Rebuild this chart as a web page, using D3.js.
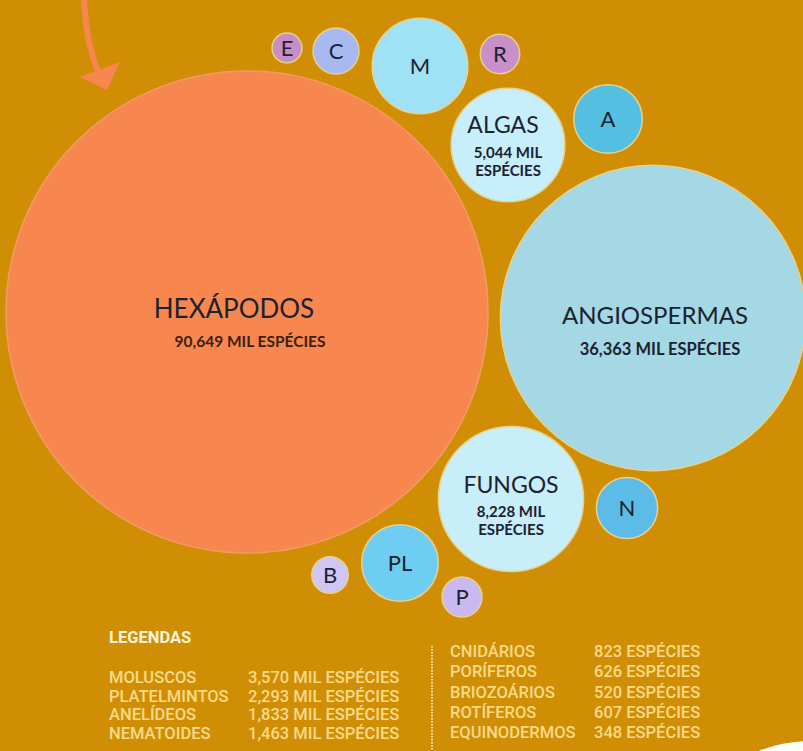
<!DOCTYPE html>
<meta charset="utf-8">
<style>
  body { margin: 0; background: #d08e05; }
  svg { display: block; }
  .bubble text { font-family: Lato, "Open Sans", sans-serif; fill: #1c2230; text-anchor: middle; }
  .legend text { font-family: Roboto, "Open Sans", sans-serif; fill: #f8da88; font-weight: 500; }
</style>
<svg width="803" height="751"></svg>
<script src="https://d3js.org/d3.v7.min.js"></script>
<script>

// data
var names = ["Hexápodos", "Angiospermas", "Fungos", "Algas", "Moluscos", "Platelmintos",
  "Anelídeos", "Nematoides", "Cnidários", "Poríferos", "Briozoários", "Rotíferos", "Equinodermos"];
var species = [90649, 36363, 8228, 5044, 3570, 2293, 1833, 1463, 823, 626, 520, 607, 348];
var codes = ["HEXÁPODOS", "ANGIOSPERMAS", "FUNGOS", "ALGAS", "M", "PL", "A", "N", "C", "P", "B", "R", "E"];

var legendLeft = ["Moluscos", "Platelmintos", "Anelídeos", "Nematoides"];
var legendRight = ["Cnidários", "Poríferos", "Briozoários", "Rotíferos", "Equinodermos"];

// layout (hand placed bubble centres) and colours
var centers = [[247, 312], [653, 318], [511, 499], [508, 145], [420, 66], [400, 563],
  [608, 119], [627, 508], [336, 51], [462, 597], [330, 575], [500, 54], [287, 48]];
var fills = ["#f7874e", "#a3d8e4", "#c8eefa", "#c6eefb", "#9fe2f6", "#6ecdf0",
  "#55bfe2", "#5cbbe7", "#a8b9f2", "#cab9ef", "#d0c6f5", "#c98fc8", "#c98dc6"];

var svg = d3.select("svg"),
  width = +svg.attr("width"),
  height = +svg.attr("height");

svg.append("rect").attr("width", width).attr("height", height).attr("fill", "#d08e05");

var r = d3.scaleSqrt().domain([0, d3.max(species)]).range([0, 241]);
var fmt = d3.format(",");
function label(v) { return v >= 1000 ? fmt(v) + " MIL ESPÉCIES" : v + " ESPÉCIES"; }

// arrow
svg.append("path")
  .attr("d", "M84,0 C86,35 91,55 99,74")
  .attr("fill", "none").attr("stroke", "#f7874e").attr("stroke-width", 6);
svg.append("path")
  .attr("d", "M80,77 L120,62 L107,90 Z")
  .attr("fill", "#f7874e");

var data = names.map(function(n, i) {
  return { name: n, value: species[i], code: codes[i], x: centers[i][0], y: centers[i][1], fill: fills[i] };
});

var node = svg.selectAll(".bubble")
  .data(data)
  .enter().append("g")
  .attr("class", "bubble")
  .attr("transform", function(d) { return "translate(" + d.x + "," + d.y + ")"; });

node.append("circle")
  .attr("r", function(d) { return r(d.value); })
  .attr("fill", function(d) { return d.fill; })
  .attr("stroke", function(d, i) { return i == 0 ? "#f49a68" : "#e6d28e"; })
  .attr("stroke-width", 1.5);

// small bubbles: just the letter
node.filter(function(d, i) { return i >= 4; })
  .append("text")
  .attr("dy", "0.35em")
  .style("font-size", "22px")
  .text(function(d) { return d.code; });

// big bubbles: name + count
var big = [
  { i: 0, t: [-13, 6], s: [[3, 35]], size: 26, sub: 15.5 },
  { i: 1, t: [2, 6], s: [[7, 37]], size: 24, sub: 16.5 },
  { i: 2, t: [0, -6], s: [[0, 18], [0, 36]], size: 23, sub: 15 },
  { i: 3, t: [-5, -12], s: [[0, 13], [0, 31]], size: 23, sub: 15 }
];
big.forEach(function(b) {
  var d = data[b.i];
  var g = node.filter(function(e) { return e === d; });
  g.append("text")
    .attr("x", b.t[0]).attr("y", b.t[1])
    .style("font-size", b.size + "px")
    .text(d.code);
  var parts = b.s.length == 1 ? [label(d.value)] : [fmt(d.value) + " MIL", "ESPÉCIES"];
  parts.forEach(function(p, k) {
    g.append("text")
      .attr("x", b.s[k][0]).attr("y", b.s[k][1])
      .style("font-size", b.sub + "px")
      .style("font-weight", 700)
      .style("fill", b.i == 0 ? "#3a1f12" : "#1c2230")
      .text(p);
  });
});

// legend
var legend = svg.append("g").attr("class", "legend");
legend.append("text")
  .attr("x", 109).attr("y", 643)
  .style("font-size", "16.5px").style("font-weight", 700).style("fill", "#fff4dc")
  .text("LEGENDAS");

var byName = {};
data.forEach(function(d) { byName[d.name] = d; });

var yLeft = d3.scalePoint().domain(legendLeft).range([683, 739]);
var yRight = d3.scalePoint().domain(legendRight).range([657, 738]);

[[legendLeft, yLeft, 109, 248], [legendRight, yRight, 450, 594]].forEach(function(c) {
  var rows = legend.selectAll(null).data(c[0]).enter();
  rows.append("text")
    .attr("x", c[2]).attr("y", function(n) { return c[1](n); })
    .style("font-size", "16.5px")
    .text(function(n) { return n.toUpperCase(); });
  rows.append("text")
    .attr("x", c[3]).attr("y", function(n) { return c[1](n); })
    .style("font-size", "16.5px")
    .text(function(n) { return label(byName[n].value); });
});

// dotted divider
legend.append("line")
  .attr("x1", 432).attr("x2", 432).attr("y1", 646).attr("y2", height)
  .attr("stroke", "#f6e3b0").attr("stroke-width", 2).attr("stroke-dasharray", "1.5,1.5");

// white shape in the corner
svg.append("ellipse")
  .attr("cx", 812).attr("cy", 776).attr("rx", 76).attr("ry", 35)
  .attr("fill", "#ffffff");

</script>
